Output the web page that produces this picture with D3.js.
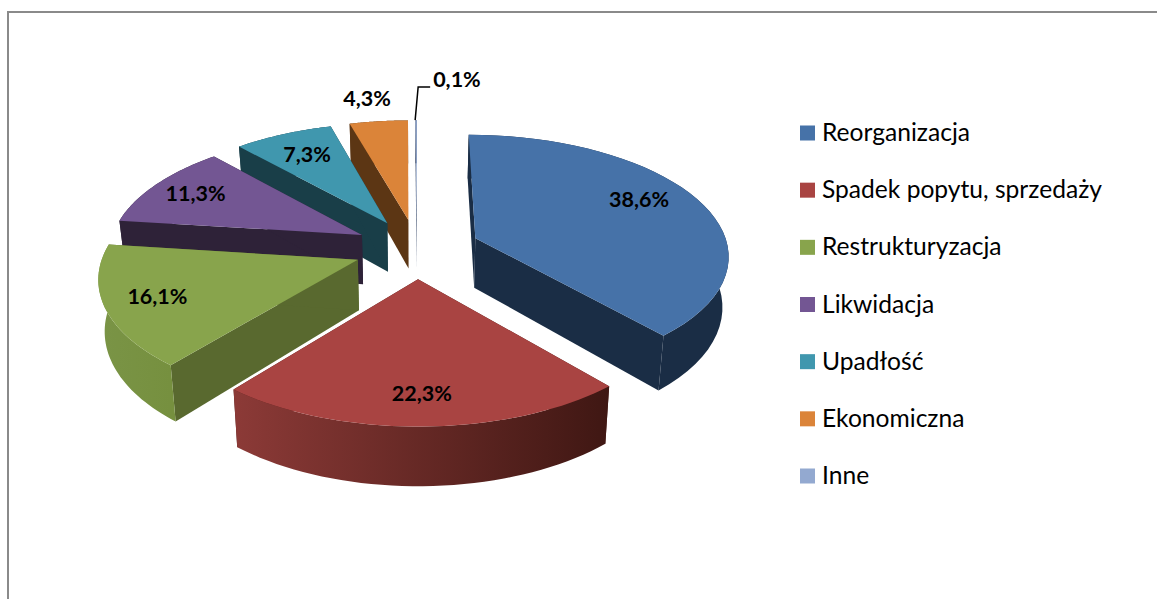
<!DOCTYPE html>
<html>
<head>
<meta charset="utf-8">
<script src="https://cdn.jsdelivr.net/npm/d3@7"></script>
<style>
html, body { margin: 0; padding: 0; background: #fff; overflow: hidden; }
svg { display: block; }
text { font-family: Lato, "Open Sans", sans-serif; fill: #000; }
</style>
</head>
<body>
<div id="chart"></div>
<script>
// udzial przyczyn zwolnien
var categories = ["Reorganizacja", "Spadek popytu, sprzedaży", "Restrukturyzacja", "Likwidacja", "Upadłość", "Ekonomiczna", "Inne"];
var shares = [38.6, 22.3, 16.1, 11.3, 7.3, 4.3, 0.1];
var shareLabels = ["38,6%", "22,3%", "16,1%", "11,3%", "7,3%", "4,3%", "0,1%"];
var topColors = ["#4672a8", "#a94442", "#88a44c", "#735693", "#4097ae", "#db8439", "#93a9d0"];
var wallColors = ["#1a2d45", "#4a1c18", "#59692f", "#2e2238", "#193e48", "#5c3614", "#3c4d6c"];
var arcWallFrom = ["#1a2d45", "#8c3a37", "#7a9446", "#2e2238", "#193e48", "#5c3614", "#3c4d6c"];
var arcWallTo = ["#1a2d45", "#3f1713", "#76903f", "#2e2238", "#193e48", "#5c3614", "#3c4d6c"];

var width = 1157, height = 599;

var svg = d3.select("#chart").append("svg")
    .attr("width", width)
    .attr("height", height);

// ramka
svg.append("path")
    .attr("d", "M8,599V12H1157")
    .attr("fill", "none")
    .attr("stroke", "#8a8a8a")
    .attr("stroke-width", 2);

var pie_cx = 417, pie_cy = 248.5,
    pie_radius = 253,
    pie_explode = 63,
    pie_tilt = 0.472,
    pie_persp = 0.13,
    pie_depth = 50,
    pie_taper = 0.0004;

var pie = d3.pie().sort(null).value(function (d) { return d; });
var slices = pie(shares);

var radiusScale = d3.scaleLinear().domain([0, 1]).range([0, pie_radius]);

// rzut punktu na plaszczyzne wykresu
function project(angle, r, mid, drop) {
    var u = radiusScale(r) * Math.sin(angle) + pie_explode * Math.sin(mid);
    var v = -radiusScale(r) * Math.cos(angle) - pie_explode * Math.cos(mid);
    var s = 1 / (1 - pie_persp * v / pie_radius);
    var d = drop || 0;
    return [pie_cx + u * s * (1 - pie_taper * d), pie_cy + pie_tilt * v * s + d * s];
}

function arcPoints(d, drop) {
    var mid = (d.startAngle + d.endAngle) / 2;
    return d3.range(0, 41).map(function (i) {
        var a = d.startAngle + (d.endAngle - d.startAngle) * i / 40;
        return project(a, 1, mid, drop);
    });
}

var line = d3.line();

var defs = svg.append("defs");
slices.forEach(function (d, i) {
    var g = defs.append("linearGradient")
        .attr("id", "wall" + i)
        .attr("gradientUnits", "userSpaceOnUse")
        .attr("x1", d3.min(arcPoints(d, 0), function (p) { return p[0]; }))
        .attr("x2", d3.max(arcPoints(d, 0), function (p) { return p[0]; }))
        .attr("y1", 0).attr("y2", 0);
    g.append("stop").attr("offset", "0%").attr("stop-color", arcWallFrom[i]);
    g.append("stop").attr("offset", "100%").attr("stop-color", arcWallTo[i]);
});

// od tylu do przodu
var order = slices.slice().sort(function (a, b) {
    var ma = (a.startAngle + a.endAngle) / 2, mb = (b.startAngle + b.endAngle) / 2;
    return Math.cos(mb) - Math.cos(ma);
});

var sliceG = svg.selectAll(".slice")
    .data(order)
    .enter().append("g")
    .attr("class", "slice");

sliceG.each(function (d) {
    var g = d3.select(this);
    var mid = (d.startAngle + d.endAngle) / 2;
    var apex = project(0, 0, mid, 0), apexLow = project(0, 0, mid, pie_depth);
    var top = arcPoints(d, 0), low = arcPoints(d, pie_depth);

    // sciany proste
    [[top[0], low[0]], [top[40], low[40]]].forEach(function (e) {
        g.append("path")
            .attr("d", line([apex, e[0], e[1], apexLow]) + "Z")
            .attr("fill", wallColors[d.index]);
    });
    // sciana zewnetrzna
    g.append("path")
        .attr("d", line(top.concat(low.slice().reverse())) + "Z")
        .attr("fill", "url(#wall" + d.index + ")");
    // wierzch
    g.append("path")
        .attr("d", line([apex].concat(top)) + "Z")
        .attr("fill", topColors[d.index]);
});

// etykiety
var labelR = [0.73, 0.8, 0.8, 0.8, 0.75];
var labelDy = [-2, 7, 7, 7, 7];
slices.forEach(function (d, i) {
    if (i >= 5) return;
    var mid = (d.startAngle + d.endAngle) / 2;
    var p = project(mid, labelR[i], mid, 0);
    svg.append("text")
        .attr("x", p[0]).attr("y", p[1] + labelDy[i])
        .attr("text-anchor", "middle")
        .attr("font-size", 21.5)
        .attr("font-weight", 700)
        .text(shareLabels[i]);
});

// dwie male etykiety nad wykresem
var smallMid = (slices[5].startAngle + slices[5].endAngle) / 2;
var p5 = project(smallMid, 1.26, smallMid, 0);
svg.append("text").attr("x", p5[0] - 5).attr("y", p5[1] + 7)
    .attr("text-anchor", "middle").attr("font-size", 21.5).attr("font-weight", 700)
    .text(shareLabels[5]);

var innaMid = (slices[6].startAngle + slices[6].endAngle) / 2;
var p6a = project(innaMid, 1, innaMid, 0);
svg.append("path")
    .attr("d", line([[p6a[0] - 1, p6a[1]], [p6a[0] + 2, 87], [p6a[0] + 14, 87]]))
    .attr("fill", "none").attr("stroke", "#000").attr("stroke-width", 1.5);
svg.append("text").attr("x", p6a[0] + 17).attr("y", 87)
    .attr("font-size", 21.5).attr("font-weight", 700)
    .text(shareLabels[6]);

// legenda
var legendY = d3.scalePoint().domain(categories).range([133, 476]);
var legend = svg.selectAll(".legend")
    .data(categories)
    .enter().append("g")
    .attr("class", "legend")
    .attr("transform", function (d) { return "translate(800," + legendY(d) + ")"; });
legend.append("rect")
    .attr("y", -7.5)
    .attr("width", 15).attr("height", 15)
    .attr("fill", function (d, i) { return topColors[i]; });
legend.append("text")
    .attr("x", 22).attr("y", 8)
    .attr("font-size", 24.6)
    .text(function (d) { return d; });
</script>
</body>
</html>
